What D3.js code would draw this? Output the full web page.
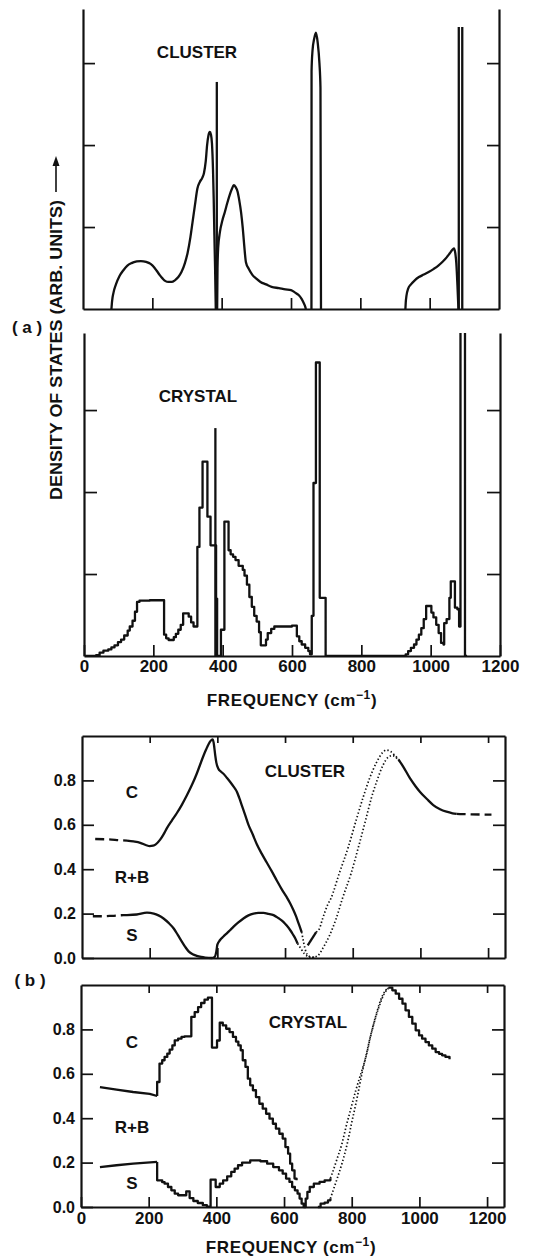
<!DOCTYPE html>
<html lang="en">
<head>
<meta charset="UTF-8">
<title>Density of states: cluster and crystal</title>
<script src="https://d3js.org/d3.v7.min.js"></script>
<style>
  body { margin: 0; background: #fff; }
  svg { display: block; background: #fff; }
  text { font-family: "Liberation Sans", Arial, sans-serif; font-weight: bold; fill: #111; }
  .axis path, .axis line { stroke: #111; }
  .axis .domain { stroke-width: 2.2; }
  .axis .tick line { stroke-width: 1.7; }
  .axis text { font-size: 16px; }
  .axis.xlab text { font-size: 17px; }
  .curve { fill: none; stroke: #111; stroke-width: 2.3; stroke-linejoin: round; }
  .dash { stroke-dasharray: 9,5; }
  .dot { stroke-width: 1.7; stroke-dasharray: 1.4,2.2; }
  .lbl { font-size: 17px; }
</style>
</head>
<body>
<svg id="chart"></svg>
<script>
// ---- ticks ----
const freqTicks = [0, 200, 400, 600, 800, 1000, 1200];
const innerFreqTicks = [200, 400, 600, 800, 1000];
const upperFreqTicks = [200, 400, 600, 800, 1000, 1200];
const dosTicks = [1, 2, 3];
const fracTicks = [0, 0.2, 0.4, 0.6, 0.8];
const fracTicksRight = [0.2, 0.4, 0.6, 0.8];

// ---- (a) cluster density of states, [frequency, value] ----
const clusterDosLow = [[82,0],[84,0.1],[88,0.2],[95,0.3],[105,0.4],[116,0.47],[128,0.53],[140,0.56],[155,0.58],
  [167,0.585],[182,0.575],[195,0.55],[205,0.51],[212,0.47],[222,0.41],[230,0.37],[238,0.34],[246,0.33],[256,0.33],
  [265,0.35],[275,0.39],[284,0.45],[294,0.56],[302,0.69],[310,0.88],[316,1.06],[323,1.27],[330,1.47],[337,1.55],
  [344,1.6],[349,1.66],[354,1.8],[358,2.0],[362,2.12],[366,2.16],[369,2.13],[372,2.02],[375,1.7],[377,1.35],
  [379,0.9],[381,0.5],[383,0]];
const clusterDosMid = [[387,0],[388,0.5],[390,0.75],[395,0.94],[402,1.08],[409,1.18],[416,1.29],[423,1.39],[430,1.47],
  [435,1.51],[440,1.49],[446,1.43],[451,1.32],[456,1.18],[461,0.98],[465,0.78],[470,0.57],[478,0.49],[488,0.42],
  [500,0.37],[512,0.33],[528,0.3],[544,0.27],[565,0.255],[584,0.24],[600,0.23],[612,0.2],[622,0.17],[631,0.12],
  [637,0.07],[641,0.03],[643,0]];
const clusterDosPeak = [[659,0],[659.3,2.9],[662,3.15],[667,3.3],[672,3.37],[677,3.25],[682,3.0],[685,2.7],[686.5,0]];
const clusterDosHigh = [[930,0],[931,0.08],[933,0.16],[938,0.25],[946,0.3],[957,0.35],[969,0.39],[983,0.42],[997,0.45],
  [1012,0.49],[1025,0.53],[1038,0.58],[1049,0.63],[1058,0.68],[1065,0.72],[1070,0.74],[1074,0.68],[1077,0.55],
  [1080,0.3],[1083,0]];
const clusterSpikes = [[386, 2.77], [1084, 3.44], [1094, 3.44]];

// ---- (a) crystal histogram, [bin start, value] ----
const crystalDos = [[0,0],[35,0.01],[45,0.04],[56,0.065],[70,0.08],[79,0.105],[88,0.13],[98,0.17],[107,0.2],[116,0.25],
  [126,0.31],[132,0.36],[140,0.43],[147,0.54],[153,0.66],[160,0.675],[190,0.68],[231,0.26],[237,0.215],[244,0.195],
  [259,0.23],[265,0.27],[272,0.32],[279,0.38],[286,0.52],[302,0.48],[309,0.41],[316,0.36],[327,1.33],[333,1.81],
  [342,2.37],[356,1.7],[365,1.35],[381,0.7],[384,0],[395,0.32],[405,1.64],[417,1.29],[423,1.24],[430,1.21],[437,1.17],
  [446,1.1],[458,1.05],[463,0.98],[470,0.87],[477,0.72],[484,0.6],[491,0.49],[498,0.42],[505,0.29],[510,0.13],
  [525,0.2],[530,0.28],[540,0.33],[549,0.36],[600,0.37],[614,0.24],[621,0.18],[628,0.14],[638,0.1],[647,0.06],
  [652,0.02],[657,0.49],[662,2.11],[669,3.58],[680,0.71],[697,0],[928,0.02],[935,0.06],[943,0.1],[952,0.14],
  [959,0.2],[966,0.26],[973,0.34],[980,0.45],[987,0.61],[1002,0.53],[1008,0.47],[1016,0.38],[1023,0.28],[1030,0.16],
  [1037,0.14],[1039,0.4],[1046,0.45],[1054,0.71],[1058,0.91],[1070,0.59],[1077,0.57],[1082,0.36],[1086,4.6],
  [1099,0],[1105,0]];
const crystalSpikes = [[379, 2.78]];

// ---- (b) cluster fractions ----
const clusterCdashL = [[39,0.536],[80,0.534],[110,0.531],[133,0.529]];
const clusterC = [[133,0.529],[152,0.525],[172,0.519],[190,0.508],[200,0.504],[210,0.506],[218,0.512],[231,0.533],
  [241,0.557],[251,0.585],[265,0.618],[280,0.652],[295,0.69],[310,0.733],[325,0.78],[339,0.83],[350,0.875],
  [359,0.911],[367,0.94],[374,0.963],[380,0.978],[386,0.985],[389,0.97],[391,0.948],[394,0.91],[397,0.88],
  [403,0.852],[410,0.84],[418,0.83],[428,0.812],[438,0.793],[448,0.772],[458,0.748],[465,0.72],[472,0.689],
  [482,0.645],[492,0.6],[505,0.555],[517,0.511],[531,0.47],[546,0.43],[561,0.39],[576,0.348],[590,0.31],
  [605,0.274],[615,0.247],[625,0.215],[633,0.186],[640,0.156],[645,0.135],[649,0.117]];
const clusterCtail = [[935,0.895],[950,0.86],[969,0.81],[985,0.775],[999,0.748],[1020,0.715],[1038,0.689],
  [1058,0.67],[1077,0.659],[1095,0.652],[1107,0.649]];
const clusterCdashR = [[1107,0.649],[1150,0.647],[1210,0.646]];
const clusterSdash = [[32,0.188],[60,0.188],[90,0.19],[123,0.193],[133,0.193]];
const clusterS = [[133,0.193],[162,0.196],[192,0.204],[212,0.2],[226,0.192],[241,0.178],[256,0.158],[271,0.133],
  [283,0.104],[295,0.074],[305,0.05],[315,0.03],[327,0.017],[339,0.01],[352,0.005],[364,0.002],[384,0],[392,0.005],
  [397,0.03],[400,0.06],[408,0.081],[418,0.097],[428,0.111],[438,0.126],[448,0.141],[462,0.16],[477,0.178],
  [492,0.192],[507,0.2],[521,0.203],[536,0.203],[551,0.199],[566,0.193],[580,0.18],[595,0.163],[605,0.146],
  [615,0.126],[623,0.107],[630,0.089],[637,0.065]];
const clusterSlash = [[667,0.057],[692,0.117]];
const clusterDotRight = [[649,0.117],[655,0.07],[662,0.027],[670,0.01],[680,0.003],[690,0.005],[700,0.015],
  [711,0.042],[731,0.1],[751,0.177],[770,0.27],[795,0.38],[817,0.5],[838,0.62],[855,0.72],[872,0.8],[890,0.87],
  [905,0.905],[918,0.912],[930,0.9],[940,0.885]];
const clusterDotValley = [[637,0.065],[647,0.042],[657,0.02],[667,0.008],[677,0.003],[687,0.004]];
const clusterDotLeft = [[692,0.117],[701,0.13],[711,0.177],[726,0.24],[736,0.27],[760,0.38],[787,0.5],[810,0.62],
  [830,0.72],[850,0.81],[870,0.88],[888,0.925],[900,0.937],[912,0.93],[925,0.912],[935,0.895]];

// ---- (b) crystal fractions ----
const crystalCslope = [[56,0.54],[105,0.529],[154,0.518],[203,0.51],[225,0.5]];
const crystalCsteps = [[225,0.5],[225,0.563],[232,0.646],[240,0.661],[247,0.676],[255,0.691],[262,0.709],[270,0.728],
  [277,0.751],[287,0.758],[297,0.766],[306,0.769],[326,0.856],[336,0.878],[346,0.9],[355,0.919],[365,0.934],
  [375,0.943],[387,0.718],[402,0.75],[410,0.83],[419,0.818],[429,0.803],[439,0.788],[449,0.766],[458,0.745],
  [465,0.728],[472,0.706],[478,0.661],[486,0.631],[493,0.578],[500,0.548],[508,0.526],[517,0.495],[527,0.465],
  [537,0.443],[547,0.42],[557,0.398],[567,0.375],[576,0.353],[586,0.33],[596,0.308],[604,0.27],[612,0.24],
  [618,0.195],[624,0.165],[631,0.128],[637,0.12]];
const crystalCtail = [[910,0.988],[920,0.976],[930,0.961],[940,0.938],[950,0.916],[959,0.886],[969,0.856],
  [979,0.826],[989,0.796],[999,0.773],[1008,0.758],[1018,0.743],[1028,0.728],[1038,0.713],[1048,0.698],
  [1058,0.69],[1067,0.683],[1077,0.676],[1089,0.665]];
const crystalSslope = [[56,0.18],[105,0.188],[154,0.195],[225,0.203]];
const crystalSsteps = [[225,0.203],[225,0.12],[240,0.112],[247,0.105],[257,0.09],[267,0.075],[277,0.06],[287,0.053],
  [311,0.07],[321,0.04],[332,0.027],[345,0.018],[360,0.008],[372,0.002],[383,0.123],[398,0.09],[410,0.105],
  [420,0.12],[432,0.138],[444,0.158],[454,0.173],[464,0.188],[476,0.2],[500,0.21],[530,0.206],[550,0.195],
  [568,0.18],[585,0.165],[596,0.15],[606,0.128],[616,0.113],[624,0.09],[632,0.075],[640,0.06],[646,0.038],
  [652,0.015],[658,0],[664,0.038],[669,0.068],[676,0.09],[688,0.105],[705,0.113],[720,0.12],[737,0.13]];
const crystalBase = [[700,0],[708,0.015],[720,0.02],[730,0.03],[737,0.038]];
const crystalDotLeft = [[737,0.13],[742,0.15],[757,0.218],[772,0.29],[783,0.36],[797,0.44],[812,0.525],[827,0.6],
  [842,0.676],[856,0.77],[871,0.856],[885,0.92],[896,0.961],[905,0.98],[910,0.988]];
const crystalDotRight = [[737,0.038],[747,0.083],[757,0.128],[772,0.2],[786,0.28],[800,0.38],[817,0.5],[830,0.6],
  [842,0.68],[857,0.78],[871,0.86],[885,0.93],[900,0.975],[910,0.99]];

const width = 536, height = 1256;
const svg = d3.select("#chart").attr("width", width).attr("height", height);

function frame(x, y, cfg) {
  const g = svg.append("g");
  const [y0, y1] = y.range();
  const [x0, x1] = x.range();
  g.append("g").attr("class", cfg.xLabels ? "axis xlab" : "axis").attr("transform", `translate(0,${y0})`)
    .call(d3.axisBottom(x).tickValues(cfg.xTicks).tickSize(-cfg.bTick).tickSizeOuter(0)
      .tickPadding(cfg.xPad || 0).tickFormat(cfg.xLabels ? d3.format("d") : ""));
  g.append("g").attr("class", "axis").attr("transform", `translate(${x0},0)`)
    .call(d3.axisLeft(y).tickValues(cfg.yTicks).tickSize(-cfg.sTick).tickSizeOuter(0)
      .tickPadding(cfg.yPad || 0).tickFormat(cfg.yLabels ? d3.format(".1f") : ""));
  g.append("g").attr("class", "axis").attr("transform", `translate(${x1},0)`)
    .call(d3.axisRight(y).tickValues(cfg.yTicksR).tickSize(-cfg.sTick).tickSizeOuter(0).tickFormat(""));
  if (cfg.top) {
    g.append("g").attr("class", "axis").attr("transform", `translate(0,${y1})`)
      .call(d3.axisTop(x).tickValues(cfg.topTicks).tickSize(-cfg.tTick).tickSizeOuter(0).tickFormat(""));
  }
  return g;
}

function clip(id, x, y) {
  svg.append("clipPath").attr("id", id).append("rect")
    .attr("x", x.range()[0]).attr("y", y.range()[1])
    .attr("width", x.range()[1] - x.range()[0]).attr("height", y.range()[0] - y.range()[1]);
}

function draw(x, y, data, curve, cls, clipId) {
  const line = d3.line().x(d => x(d[0])).y(d => y(d[1])).curve(curve);
  const p = svg.append("path").datum(data).attr("class", "curve " + (cls || "")).attr("d", line);
  if (clipId) p.attr("clip-path", `url(#${clipId})`);
}

function spikes(x, y, data) {
  const line = d3.line().x(d => x(d[0])).y(d => y(d[1]));
  data.forEach(s => svg.append("path").attr("class", "curve").attr("d", line([[s[0], 0], [s[0], s[1]]])));
}

// ===== panel (a) cluster =====
const xA1 = d3.scaleLinear().domain([0, 1200]).range([83, 499]);
const yA1 = d3.scaleLinear().domain([0, 3.66]).range([309, 9]);
frame(xA1, yA1, { xTicks: innerFreqTicks, bTick: 11, yTicks: dosTicks, yTicksR: dosTicks, sTick: 12 });
[clusterDosLow, clusterDosMid, clusterDosPeak, clusterDosHigh].forEach(d => draw(xA1, yA1, d, d3.curveMonotoneX));
spikes(xA1, yA1, clusterSpikes);

// ===== panel (a) crystal =====
const xA2 = d3.scaleLinear().domain([0, 1200]).range([84, 500]);
const yA2 = d3.scaleLinear().domain([0, 3.94]).range([656, 333]);
frame(xA2, yA2, { xTicks: freqTicks, bTick: 11, xLabels: true, xPad: 4, yTicks: dosTicks, yTicksR: dosTicks, sTick: 13 });
clip("clipA2", xA2, yA2);
draw(xA2, yA2, crystalDos, d3.curveStepAfter, "", "clipA2");
spikes(xA2, yA2, crystalSpikes);

// ===== panel (b) cluster =====
const xB1 = d3.scaleLinear().domain([0, 1250]).range([82, 505]);
const yB1 = d3.scaleLinear().domain([0, 1]).range([958, 736]);
frame(xB1, yB1, { xTicks: upperFreqTicks, bTick: 10, yTicks: fracTicks, yTicksR: fracTicksRight, sTick: 12,
  yLabels: true, yPad: 6, top: true, topTicks: upperFreqTicks, tTick: 7 });
draw(xB1, yB1, clusterCdashL, d3.curveMonotoneX, "dash");
draw(xB1, yB1, clusterC, d3.curveMonotoneX);
draw(xB1, yB1, clusterCtail, d3.curveMonotoneX);
draw(xB1, yB1, clusterCdashR, d3.curveMonotoneX, "dash");
draw(xB1, yB1, clusterSdash, d3.curveMonotoneX, "dash");
draw(xB1, yB1, clusterS, d3.curveMonotoneX);
draw(xB1, yB1, clusterSlash, d3.curveLinear);
draw(xB1, yB1, clusterDotRight, d3.curveMonotoneX, "dot");
draw(xB1, yB1, clusterDotValley, d3.curveMonotoneX, "dot");
draw(xB1, yB1, clusterDotLeft, d3.curveMonotoneX, "dot");

// ===== panel (b) crystal =====
const xB2 = d3.scaleLinear().domain([0, 1250]).range([81, 504]);
const yB2 = d3.scaleLinear().domain([0, 1]).range([1207, 985]);
frame(xB2, yB2, { xTicks: freqTicks, bTick: 10, xLabels: true, xPad: 5, yTicks: fracTicks, yTicksR: fracTicksRight,
  sTick: 12, yLabels: true, yPad: 6, top: true, topTicks: upperFreqTicks, tTick: 8 });
draw(xB2, yB2, crystalCslope, d3.curveLinear);
draw(xB2, yB2, crystalCsteps, d3.curveStepAfter);
draw(xB2, yB2, crystalCtail, d3.curveStepAfter);
draw(xB2, yB2, crystalSslope, d3.curveLinear);
draw(xB2, yB2, crystalSsteps, d3.curveStepAfter);
draw(xB2, yB2, crystalBase, d3.curveStepAfter);
draw(xB2, yB2, crystalDotLeft, d3.curveMonotoneX, "dot");
draw(xB2, yB2, crystalDotRight, d3.curveMonotoneX, "dot");

// ===== texts =====
function label(x, y, t, anchor) {
  return svg.append("text").attr("class", "lbl").attr("x", x).attr("y", y)
    .attr("text-anchor", anchor || "middle").text(t);
}
label(197, 58, "CLUSTER");
label(198, 402, "CRYSTAL");
label(305, 777, "CLUSTER");
label(308, 1028, "CRYSTAL");
[[798, "C"], [883, "R+B"], [941, "S"], [1048, "C"], [1133, "R+B"], [1189, "S"]]
  .forEach(d => label(132, d[0], d[1]));
label(27, 333, "( a )");
label(30, 986, "( b )");

function freqTitle(cx, yb) {
  const t = svg.append("text").attr("class", "lbl").attr("x", cx).attr("y", yb)
    .attr("text-anchor", "middle").style("letter-spacing", "0.6px");
  t.append("tspan").text("FREQUENCY (cm");
  t.append("tspan").attr("dy", -7).style("font-size", "12px").text("\u22121");
  t.append("tspan").attr("dy", 7).text(")");
}
freqTitle(292, 706);
freqTitle(291, 1253);

svg.append("text").attr("class", "lbl")
  .attr("transform", "translate(62,500) rotate(-90)")
  .attr("text-anchor", "start")
  .attr("textLength", 300).attr("lengthAdjust", "spacingAndGlyphs")
  .text("DENSITY OF STATES (ARB. UNITS)");
svg.append("line").attr("x1", 56).attr("x2", 56).attr("y1", 192).attr("y2", 164)
  .attr("stroke", "#111").attr("stroke-width", 1.6);
svg.append("path").attr("d", "M56,156 L52.5,166 L59.5,166 Z").attr("fill", "#111");
</script>
</body>
</html>
